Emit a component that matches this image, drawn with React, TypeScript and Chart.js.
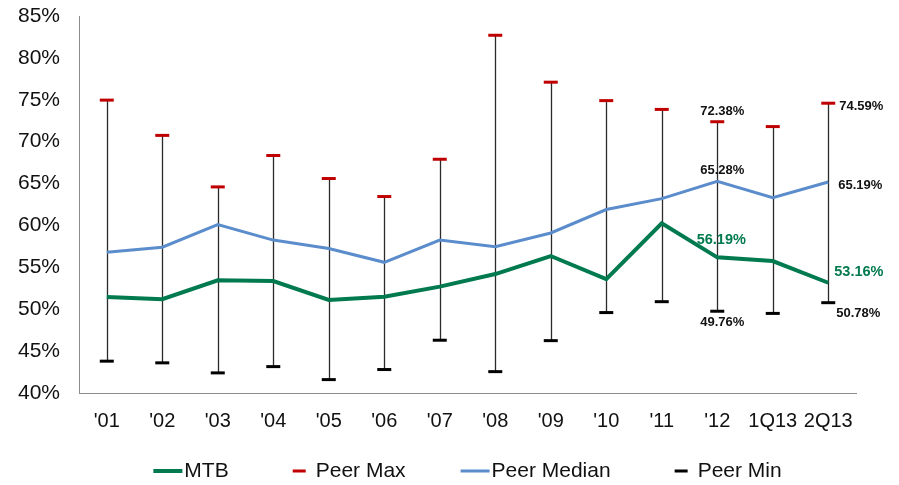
import React, { useEffect, useRef } from "react";
import { Chart, registerables } from "chart.js";

Chart.register(...registerables);

const categories = ["'01", "'02", "'03", "'04", "'05", "'06", "'07", "'08", "'09", "'10", "'11", "'12", "1Q13", "2Q13"];
const mtb = [51.46, 51.2, 53.45, 53.37, 51.1, 51.5, 52.7, 54.2, 56.35, 53.6, 60.25, 56.19, 55.75, 53.16];
const peerMedian = [56.8, 57.4, 60.1, 58.25, 57.25, 55.6, 58.25, 57.45, 59.1, 61.9, 63.2, 65.28, 63.3, 65.19];
const peerMax = [74.96, 70.75, 64.6, 68.35, 65.6, 63.45, 67.9, 82.7, 77.1, 74.9, 73.85, 72.38, 71.8, 74.59];
const peerMin = [43.8, 43.6, 42.4, 43.15, 41.6, 42.8, 46.3, 42.55, 46.25, 49.6, 50.9, 49.76, 49.5, 50.78];
const yTicks = [40, 45, 50, 55, 60, 65, 70, 75, 80, 85];
const labeledCenter = 11;
const labeledRight = 13;

const GREEN = "#007A4E";
const BLUE = "#5B8CCB";
const RED = "#C00000";
const BLACK = "#000000";
const TEXT = "#111111";
const FONT = "'Liberation Sans', Arial, Helvetica, sans-serif";

export default function App() {
  const ref = useRef<HTMLCanvasElement | null>(null);

  useEffect(() => {
    if (!ref.current) return;

    const whiskers = {
      id: "whiskers",
      beforeDatasetsDraw(chart: any) {
        const { ctx } = chart;
        const xs = chart.scales.x;
        const ys = chart.scales.y;
        ctx.save();
        ctx.strokeStyle = "#2a2a2a";
        ctx.lineWidth = 1.3;
        for (let i = 0; i < categories.length; i++) {
          const px = Math.round(xs.getPixelForValue(i)) + 0.5;
          ctx.beginPath();
          ctx.moveTo(px, ys.getPixelForValue(peerMax[i]));
          ctx.lineTo(px, ys.getPixelForValue(peerMin[i]));
          ctx.stroke();
        }
        ctx.restore();
      },
    };

    const valueLabels = {
      id: "valueLabels",
      afterDatasetsDraw(chart: any) {
        const { ctx } = chart;
        const xs = chart.scales.x;
        const ys = chart.scales.y;
        const fmt = (v: number) => v.toFixed(2) + "%";
        ctx.save();
        ctx.textBaseline = "middle";
        const i = labeledCenter;
        const cx = xs.getPixelForValue(i);
        ctx.textAlign = "center";
        ctx.font = `bold 13px ${FONT}`;
        ctx.fillStyle = TEXT;
        ctx.fillText(fmt(peerMax[i]), cx + 5, ys.getPixelForValue(peerMax[i]) - 10);
        ctx.fillText(fmt(peerMedian[i]), cx + 5, ys.getPixelForValue(peerMedian[i]) - 11);
        ctx.fillText(fmt(peerMin[i]), cx + 5, ys.getPixelForValue(peerMin[i]) + 11);
        ctx.font = `bold 14.5px ${FONT}`;
        ctx.fillStyle = GREEN;
        ctx.fillText(fmt(mtb[i]), cx + 4, ys.getPixelForValue(mtb[i]) - 17);
        const j = labeledRight;
        const rx = xs.getPixelForValue(j);
        ctx.textAlign = "left";
        ctx.font = `bold 13px ${FONT}`;
        ctx.fillStyle = TEXT;
        ctx.fillText(fmt(peerMax[j]), rx + 11, ys.getPixelForValue(peerMax[j]) + 3);
        ctx.fillText(fmt(peerMedian[j]), rx + 10, ys.getPixelForValue(peerMedian[j]) + 3);
        ctx.fillText(fmt(peerMin[j]), rx + 8, ys.getPixelForValue(peerMin[j]) + 11);
        ctx.font = `bold 14.5px ${FONT}`;
        ctx.fillStyle = GREEN;
        ctx.fillText(fmt(mtb[j]), rx + 6, ys.getPixelForValue(mtb[j]) - 11);
        ctx.restore();
      },
    };

    const bottomLegend = {
      id: "bottomLegend",
      afterDraw(chart: any) {
        const { ctx, chartArea } = chart;
        const ds = chart.data.datasets;
        const fontSize = 21;
        ctx.save();
        ctx.font = `${fontSize}px ${FONT}`;
        ctx.textBaseline = "middle";
        ctx.textAlign = "left";
        const items = ds.map((d: any) => {
          const isLine = d.showLine !== false;
          return {
            text: d.label,
            color: d.borderColor,
            lead: isLine ? 0 : 9,
            sw: isLine ? 29 : 13,
            thick: isLine ? (d.borderWidth >= 4 ? 4 : 3) : 3,
            gap: isLine ? 2 : 10,
            tw: ctx.measureText(d.label).width,
          };
        });
        const spacing = 55;
        let total = 0;
        items.forEach((it: any, k: number) => {
          total += it.lead + it.sw + it.gap + it.tw + (k < items.length - 1 ? spacing : 0);
        });
        let x = (chartArea.left + chartArea.right) / 2 - total / 2;
        const y = 471;
        items.forEach((it: any) => {
          x += it.lead;
          ctx.fillStyle = it.color;
          ctx.fillRect(x, y - it.thick / 2, it.sw, it.thick);
          x += it.sw + it.gap;
          ctx.fillStyle = TEXT;
          ctx.fillText(it.text, x, y);
          x += it.tw + spacing;
        });
        ctx.restore();
      },
    };

    const chart = new Chart(ref.current, {
      type: "line",
      data: {
        labels: categories,
        datasets: [
          {
            label: "MTB",
            data: mtb,
            borderColor: GREEN,
            backgroundColor: GREEN,
            borderWidth: 4,
            pointRadius: 0,
            tension: 0,
          },
          {
            label: "Peer Max",
            data: peerMax,
            showLine: false,
            pointStyle: "line",
            pointRadius: 7,
            borderColor: RED,
            backgroundColor: RED,
            pointBorderWidth: 3,
            borderWidth: 3,
          },
          {
            label: "Peer Median",
            data: peerMedian,
            borderColor: BLUE,
            backgroundColor: BLUE,
            borderWidth: 3,
            pointRadius: 0,
            tension: 0,
          },
          {
            label: "Peer Min",
            data: peerMin,
            showLine: false,
            pointStyle: "line",
            pointRadius: 7,
            borderColor: BLACK,
            backgroundColor: BLACK,
            pointBorderWidth: 3,
            borderWidth: 3,
          },
        ],
      },
      options: {
        responsive: false,
        animation: false,
        events: [],
        layout: { padding: { left: 18, right: 43, top: 16, bottom: 36 } },
        scales: {
          x: {
            offset: true,
            grid: { display: false, drawTicks: false },
            border: { display: true, color: "#8c8c8c", width: 1 },
            ticks: {
              color: TEXT,
              font: { family: FONT, size: 20 },
              padding: 16,
              autoSkip: false,
              maxRotation: 0,
            },
          },
          y: {
            min: 40,
            max: 85,
            afterBuildTicks(scale: any) {
              scale.ticks = yTicks.map((v) => ({ value: v }));
            },
            afterFit(scale: any) {
              scale.width += 19;
            },
            grid: { display: false, drawTicks: false },
            border: { display: true, color: "#8c8c8c", width: 1 },
            ticks: {
              color: TEXT,
              font: { family: FONT, size: 21 },
              padding: 0,
              crossAlign: "far",
              callback: (v: any) => v + "%",
            },
          },
        },
        plugins: {
          tooltip: { enabled: false },
          legend: { display: false },
        },
      },
      plugins: [whiskers, valueLabels, bottomLegend],
    } as any);

    return () => chart.destroy();
  }, []);

  return (
    <div style={{ position: "fixed", left: 0, top: 0, width: 899, height: 485, background: "#fff" }}>
      <canvas ref={ref} width={899} height={485} style={{ display: "block" }} />
    </div>
  );
}
